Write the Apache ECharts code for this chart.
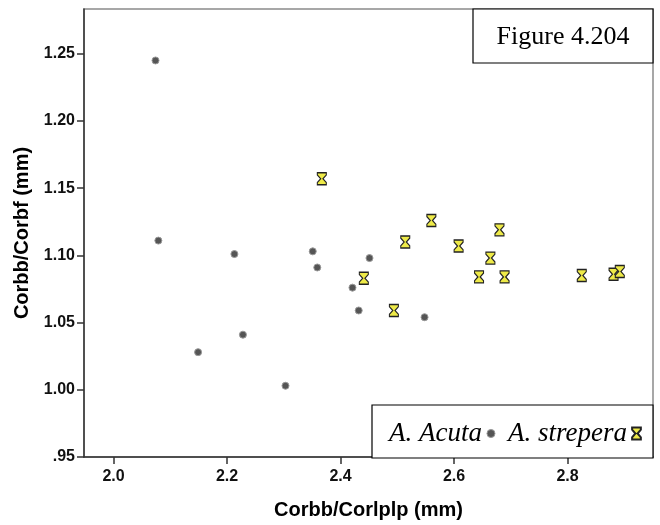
<!DOCTYPE html>
<html>
<head>
<meta charset="utf-8">
<script src="https://cdn.jsdelivr.net/npm/echarts@6/dist/echarts.min.js"></script>
<style>html,body{margin:0;padding:0;background:#fff}#c{width:660px;height:525px}</style>
</head>
<body>
<div id="c"></div>
<script>
// A. Acuta (x = Corbb/Corlplp, y = Corbb/Corbf)
var acutaX = [2.074, 2.079, 2.213, 2.351, 2.359, 2.228, 2.149, 2.303, 2.451, 2.421, 2.432, 2.548];
var acutaY = [1.245, 1.111, 1.101, 1.103, 1.091, 1.041, 1.028, 1.003, 1.098, 1.076, 1.059, 1.054];
// A. strepera
var streperaX = [2.367, 2.560, 2.514, 2.608, 2.441, 2.494, 2.644, 2.664, 2.680, 2.689, 2.825, 2.881, 2.892];
var streperaY = [1.157, 1.126, 1.110, 1.107, 1.083, 1.059, 1.084, 1.098, 1.119, 1.084, 1.085, 1.086, 1.088];
var xTicks = [2.0, 2.2, 2.4, 2.6, 2.8];
var yTicks = [0.95, 1.00, 1.05, 1.10, 1.15, 1.20, 1.25];
var seriesNames = ['A. Acuta', 'A. strepera'];
var figureLabel = 'Figure 4.204';
var xTitle = 'Corbb/Corlplp (mm)';
var yTitle = 'Corbb/Corbf (mm)';

function pairs(xs, ys) { return xs.map(function (x, i) { return [x, ys[i]]; }); }
var hourglass = 'path://M0,0 L8,0 L8,2 L5,5.5 L8,9 L8,11 L0,11 L0,9 L3,5.5 L0,2 Z';

var legendText = { fontFamily: 'Liberation Serif', fontStyle: 'italic', fontSize: 27, color: '#000', padding: 0 };

var chart = echarts.init(document.getElementById('c'));
chart.setOption({
  animation: false,
  grid: { left: 84, top: 9, right: 7, bottom: 66, show: true, borderColor: '#8a8a8a', borderWidth: 1.5, backgroundColor: '#fff' },
  xAxis: {
    type: 'value', min: 1.948, max: 2.9505,
    name: xTitle, nameLocation: 'middle', nameGap: 43,
    nameTextStyle: { fontFamily: 'Liberation Sans', fontWeight: 'bold', fontSize: 20, color: '#000' },
    axisLine: { show: true, onZero: false, lineStyle: { color: '#333', width: 1.5 } },
    axisTick: { show: true, length: 7, customValues: xTicks, lineStyle: { color: '#333', width: 1.5 } },
    axisLabel: { customValues: xTicks, margin: 12, fontFamily: 'Liberation Sans', fontSize: 16, fontWeight: 'bold', color: '#111',
      formatter: function (v) { return v.toFixed(1); } },
    splitLine: { show: false }
  },
  yAxis: {
    type: 'value', min: 0.95, max: 1.2833,
    name: yTitle, nameLocation: 'middle', nameGap: 51, nameRotate: 90,
    nameTextStyle: { fontFamily: 'Liberation Sans', fontWeight: 'bold', fontSize: 20, color: '#000' },
    axisLine: { show: true, onZero: false, lineStyle: { color: '#333', width: 1.5 } },
    axisTick: { show: true, length: 7, customValues: yTicks, lineStyle: { color: '#333', width: 1.5 } },
    axisLabel: { customValues: yTicks, margin: 9, fontFamily: 'Liberation Sans', fontSize: 16, fontWeight: 'bold', color: '#111',
      formatter: function (v) { return v.toFixed(2).replace(/^0/, ''); } },
    splitLine: { show: false }
  },
  legend: [
    {
      left: 389, top: 420, align: 'right', itemWidth: 8, itemHeight: 12, padding: 0, width: 130,
      textStyle: legendText,
      data: [{ name: seriesNames[0], icon: 'circle', itemStyle: { color: '#555', borderColor: '#999', borderWidth: 1 } }]
    },
    {
      left: 508, top: 420, align: 'right', itemWidth: 9, itemHeight: 12, padding: 0, width: 150,
      textStyle: legendText,
      data: [{ name: seriesNames[1], icon: hourglass }]
    }
  ],
  graphic: [
    { type: 'rect', shape: { x: 473, y: 9, width: 180, height: 54 }, style: { fill: '#fff', stroke: '#000', lineWidth: 1.2 }, z: 10 },
    { type: 'text', x: 563, y: 37, style: { text: figureLabel, font: '26px "Liberation Serif"', fill: '#000', align: 'center', verticalAlign: 'middle' }, z: 11 },
    { type: 'rect', shape: { x: 372, y: 405, width: 281, height: 53 }, style: { fill: '#fff', stroke: '#000', lineWidth: 1.2 }, z: 1 }
  ],
  series: [
    {
      name: seriesNames[0], type: 'scatter', data: pairs(acutaX, acutaY),
      symbol: 'circle', symbolSize: 7,
      itemStyle: { color: '#555', borderColor: '#999', borderWidth: 1, opacity: 1 }
    },
    {
      name: seriesNames[1], type: 'scatter', data: pairs(streperaX, streperaY),
      symbol: hourglass, symbolSize: [9, 12],
      itemStyle: { color: '#eeea48', borderColor: '#222', borderWidth: 1.2, opacity: 1 }
    }
  ]
});
</script>
</body>
</html>
